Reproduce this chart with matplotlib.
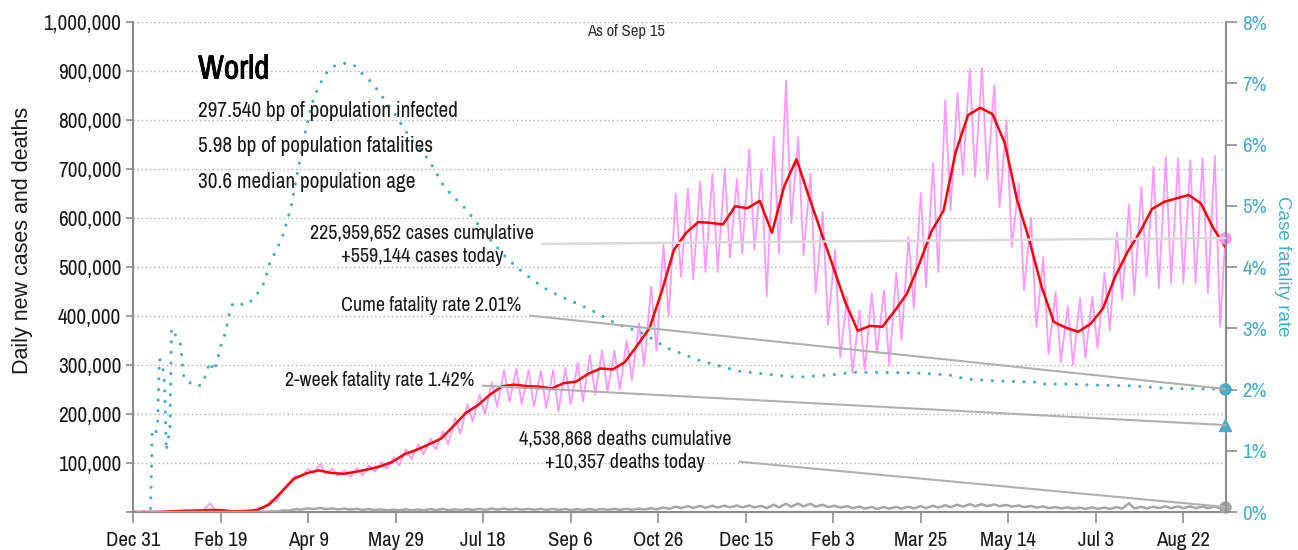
import matplotlib
matplotlib.use('Agg')
import matplotlib.pyplot as plt
import matplotlib.dates as mdates
import matplotlib.ticker as mticker
import matplotlib.patheffects as pe
import numpy as np
import pandas as pd

plt.rcParams['font.family'] = ['Archivo Narrow', 'DejaVu Sans']

# --- data (cases / deaths in thousands, rate in percent) ---
start = pd.Timestamp('2019-12-31')
last_day = pd.Timestamp('2021-09-15')

# 7-day average of new cases, one value per week (Wednesdays from Jan 1 2020)
cases_avg_k = [0, 0, 0.3, 1.5, 2.5, 3, 4, 4, 1.5, 2,
               4, 16, 42, 68, 79, 85, 80, 78, 82, 87,
               93, 102, 118, 127, 138, 150, 175, 202, 218, 240,
               257, 260, 257, 256, 252, 263, 266, 282, 293, 291,
               306, 340, 375, 450, 535, 570, 592, 590, 587, 624,
               620, 635, 570, 665, 720, 645, 572, 500, 427, 370,
               380, 378, 410, 445, 505, 572, 615, 735, 810, 825,
               812, 753, 637, 555, 460, 388, 376, 368, 384, 415,
               480, 530, 570, 618, 633, 640, 647, 630, 580, 541]

# raw daily new cases: weekly highs (Thursdays) and lows (Sundays)
cases_hi_k = [0, 0.1, 0.5, 2.5, 3.5, 4, 18, 3, 2, 3,
              10, 25, 48, 75, 88, 98, 88, 85, 90, 95,
              102, 112, 128, 138, 150, 165, 192, 220, 240, 265,
              290, 292, 290, 288, 290, 295, 305, 320, 330, 330,
              350, 385, 460, 545, 650, 660, 675, 690, 700, 680,
              740, 700, 765, 880, 765, 690, 612, 535, 439, 412,
              447, 453, 488, 561, 651, 712, 841, 855, 904, 906,
              871, 800, 671, 600, 520, 449, 420, 437, 439, 488,
              571, 627, 663, 704, 724, 722, 718, 722, 727]
cases_lo_k = [0, 0, 0.3, 1.5, 2.5, 3, 3, 1, 1, 2,
              8, 22, 60, 72, 80, 78, 75, 72, 75, 82,
              88, 95, 108, 118, 128, 138, 160, 185, 200, 215,
              225, 220, 215, 212, 205, 220, 225, 240, 245, 250,
              270, 300, 330, 400, 480, 475, 490, 490, 520, 528,
              535, 440, 528, 590, 524, 447, 382, 316, 284, 290,
              324, 300, 351, 416, 459, 490, 616, 688, 684, 678,
              622, 541, 453, 378, 322, 306, 300, 314, 335, 371,
              433, 443, 480, 457, 467, 467, 467, 447, 378]

# raw daily deaths: weekly highs (Thursdays) and lows (Sundays)
deaths_hi_k = [0, 0, 0.05, 0.05, 0.06, 0.1, 0.25, 0.1, 0.1, 0.2,
               0.5, 1.3, 3.5, 6, 7.5, 8.5, 7.5, 7, 6.5, 6,
               5.5, 5, 5.5, 5.5, 6, 6.5, 5.5, 6, 6.5, 7,
               7, 6.8, 6.5, 6.5, 6.3, 6.2, 6, 6, 6.2, 6.5,
               6.5, 7, 8, 9.5, 11, 12, 12.5, 13, 13, 13.5,
               13.5, 12.5, 15, 17, 17.5, 17, 15, 13, 12, 11,
               10.5, 10, 10.5, 11, 12, 13, 14, 15, 16, 16,
               15.5, 14.5, 13.5, 12.5, 11.5, 10, 9.5, 9, 9.5, 9,
               10, 18, 10.5, 11, 11.5, 11.5, 11.5, 11, 11]
deaths_lo_k = [0, 0, 0.03, 0.04, 0.05, 0.08, 0.12, 0.08, 0.08, 0.15,
               0.4, 1, 2.8, 5, 6, 6, 5.5, 5, 4.5, 4,
               3.5, 3.5, 3.5, 3.5, 4, 4, 4, 4.5, 4.5, 5,
               5, 5, 4.8, 4.5, 4.3, 4, 4.2, 4.3, 4.2, 4.5,
               4.5, 5, 5.5, 6.5, 8, 8.5, 8.8, 9, 9.5, 9.5,
               9.5, 8, 9.5, 11, 11.5, 11, 10, 9, 8, 7,
               6.5, 7, 7, 7.5, 8, 9, 10, 11, 12, 12,
               12, 11, 10, 9, 8, 7.5, 7, 6.5, 6.5, 6.5,
               7, 7.5, 7.5, 8, 8, 8, 8, 8, 7.5]

# cumulative case fatality rate (%), by day offset from Dec 31 2019
cfr_day = [0, 10, 11, 13, 14, 15, 16, 17, 18, 19,
           20, 21, 22, 23, 25, 27, 29, 31, 34, 37,
           40, 42, 44, 46, 48, 50, 53, 55, 57, 60,
           63, 66, 69, 72, 75, 78, 82, 86, 90, 94,
           98, 102, 106, 110, 114, 118, 122, 126, 130, 135,
           140, 145, 150, 155, 160, 165, 170, 178, 183, 190,
           197, 204, 211, 219, 227, 234, 242, 249, 257, 265,
           273, 281, 289, 297, 305, 314, 323, 333, 346, 362,
           380, 399, 411, 428, 447, 466, 476, 494, 516, 518,
           533, 552, 571, 590, 609, 624]
cfr_pct = [0, 0, 1.35, 1.3, 1.4, 2.5, 2.45, 2.35, 2.1, 1.0,
           1.2, 1.3, 3.0, 2.95, 2.85, 2.75, 2.2, 2.12, 2.1, 2.05,
           2.1, 2.3, 2.45, 2.3, 2.45, 2.7, 2.95, 3.25, 3.4, 3.42,
           3.38, 3.4, 3.5, 3.6, 3.75, 4.06, 4.28, 4.55, 4.95, 5.55,
           6.15, 6.65, 6.95, 7.15, 7.27, 7.31, 7.33, 7.3, 7.18, 7.05,
           6.88, 6.68, 6.48, 6.25, 6.05, 5.9, 5.7, 5.3, 5.15, 4.95,
           4.7, 4.45, 4.22, 4.0, 3.82, 3.67, 3.55, 3.46, 3.36, 3.25,
           3.12, 3.02, 2.95, 2.82, 2.68, 2.58, 2.48, 2.4, 2.3, 2.25,
           2.2, 2.24, 2.28, 2.28, 2.27, 2.24, 2.17, 2.14, 2.12, 2.09,
           2.09, 2.07, 2.06, 2.02, 2.01, 2.01]

cases_today = 559144
cases_cum = 225959652
deaths_today = 10357
deaths_cum = 4538868
cume_rate = 2.01
two_week_rate = 1.42

info_lines = ['297.540 bp of population infected',
              '5.98 bp of population fatalities',
              '30.6 median population age']
tick_labels_x = ['Dec 31', 'Feb 19', 'Apr 9', 'May 29', 'Jul 18', 'Sep 6', 'Oct 26',
                 'Dec 15', 'Feb 3', 'Mar 25', 'May 14', 'Jul 3', 'Aug 22']

# --- build series ---
avg_dates = pd.date_range('2020-01-01', periods=len(cases_avg_k), freq='7D')
hi_dates = pd.date_range('2020-01-02', periods=len(cases_hi_k), freq='7D')
lo_dates = pd.date_range('2020-01-05', periods=len(cases_lo_k), freq='7D')

cases_raw = pd.concat([pd.Series(cases_hi_k, hi_dates), pd.Series(cases_lo_k, lo_dates),
                       pd.Series([cases_today / 1000], [last_day])]).sort_index()
deaths_raw = pd.concat([pd.Series(deaths_hi_k, hi_dates), pd.Series(deaths_lo_k, lo_dates),
                        pd.Series([deaths_today / 1000], [last_day])]).sort_index()
cfr = pd.Series(cfr_pct, start + pd.to_timedelta(cfr_day, unit='D'))

PINK = '#ff99ff'
RED = '#ff0000'
TEAL = '#4bacc6'
GRAY = '#a6a6a6'
AXC = '#8c8c8c'
TXT = '#1a1a1a'

fig = plt.figure(figsize=(12.98, 5.5), dpi=100)
ax = fig.add_axes([0.1025, 0.069, 0.8422, 0.891])
ax2 = ax.twinx()

ax.plot(cases_raw.index, cases_raw.values * 1000, color=PINK, lw=1.3, zorder=2)
ax.plot(avg_dates, np.array(cases_avg_k) * 1000, color=RED, lw=1.8, zorder=3)
ax.plot(deaths_raw.index, deaths_raw.values * 1000, color=GRAY, lw=1.8, zorder=3)
ax2.plot(cfr.index, cfr.values, color=TEAL, lw=2.3, linestyle=(0, (0.01, 3.3)),
         dash_capstyle='round', zorder=2)

# end markers
ax.plot([last_day], [cases_today], 'o', color=PINK, ms=8, clip_on=False, zorder=5)
ax.plot([last_day], [deaths_today], 'o', color=GRAY, ms=8, clip_on=False, zorder=5)
ax2.plot([last_day], [cume_rate], 'o', color=TEAL, ms=8, clip_on=False, zorder=5)
ax2.plot([last_day], [two_week_rate], '^', color=TEAL, ms=9, clip_on=False, zorder=5)

# axes
x0 = mdates.date2num(start)
x1 = mdates.date2num(last_day) + 0.5
ax.set_xlim(x0, x1)
ax.set_ylim(0, 1000000)
ax2.set_ylim(0, 8)

xt = pd.date_range(start, periods=len(tick_labels_x), freq='50D')
ax.set_xticks(xt)
ax.set_xticklabels(tick_labels_x)
ax.set_yticks(np.arange(0, 1000001, 100000))
ax.yaxis.set_major_formatter(mticker.FuncFormatter(lambda v, p: '' if v == 0 else f'{v:,.0f}'))
ax2.set_yticks(np.arange(0, 9, 1))
ax2.yaxis.set_major_formatter(mticker.FuncFormatter(lambda v, p: f'{v:.0f}%'))

ax.grid(axis='y', linestyle=(0, (1, 2)), color='#b0b0b0', lw=1)
ax.set_axisbelow(True)

for a in (ax, ax2):
    a.spines['top'].set_visible(False)
ax.spines['right'].set_visible(False)
ax2.spines['left'].set_visible(False)
ax2.spines['bottom'].set_visible(False)
ax.spines['left'].set_color(AXC)
ax.spines['bottom'].set_color(AXC)
ax2.spines['right'].set_color(AXC)
for s in (ax.spines['left'], ax.spines['bottom'], ax2.spines['right']):
    s.set_linewidth(1.5)

ax.tick_params(axis='x', direction='out', length=8, width=1.2, color=AXC, labelsize=15, pad=6,
               labelcolor=TXT)
ax.tick_params(axis='y', direction='out', length=5, width=1.2, color=AXC, labelsize=15.3,
               labelcolor=TXT)
ax2.tick_params(axis='y', direction='out', length=8, width=1.2, color=AXC, labelsize=15,
                labelcolor=TEAL)

# axis titles are in a regular-width sans
fig.text(0.017, 0.562, 'Daily new cases and deaths', rotation=90, ha='center', va='center',
         fontsize=15.5, color=TXT, family=['Liberation Sans', 'DejaVu Sans'])
fig.text(0.988, 0.516, 'Case fatality rate', rotation=270, ha='center', va='center',
         fontsize=13.5, color=TEAL, family=['Liberation Sans', 'DejaVu Sans'])

# title block
ax2.text(0.0595, 0.903, 'World', transform=ax.transAxes, fontsize=24,
         ha='left', va='center', color='#000000',
         path_effects=[pe.withStroke(linewidth=0.6, foreground='#000000')])
for i, line in enumerate(info_lines):
    ax2.text(0.0595, 0.819 - i * 0.0725, line, transform=ax.transAxes, fontsize=15.3,
             ha='left', va='center', color=TXT)
ax2.text(0.451, 0.98, f'As of {last_day:%b} {last_day.day}', transform=ax.transAxes,
         fontsize=12, ha='center', va='center', color='#333333')

# annotations connecting labels to the end points
def day(n):
    return x0 + n

xe = mdates.date2num(last_day)
ax2.annotate(f'{cases_cum:,} cases cumulative\n+{cases_today:,} cases today',
             xy=(xe, cases_today), xycoords=ax.transData,
             xytext=(day(165), 545000), textcoords=ax.transData,
             ha='center', va='center', multialignment='center', fontsize=14.6,
             color=TXT, linespacing=1.3,
             arrowprops=dict(arrowstyle='-', color='#d9d9d9', lw=1.8, shrinkA=4, shrinkB=0),
             zorder=6)
ax2.annotate(f'Cume fatality rate {cume_rate:.2f}%',
             xy=(xe, cume_rate), xycoords=ax2.transData,
             xytext=(day(222), 422000), textcoords=ax.transData,
             ha='right', va='center', fontsize=14.4, color=TXT,
             arrowprops=dict(arrowstyle='-', color='#b0b0b0', lw=1.5, shrinkA=4, shrinkB=0),
             zorder=6)
ax2.annotate(f'2-week fatality rate {two_week_rate:.2f}%',
             xy=(xe, two_week_rate), xycoords=ax2.transData,
             xytext=(day(195), 269000), textcoords=ax.transData,
             ha='right', va='center', fontsize=14.4, color=TXT,
             arrowprops=dict(arrowstyle='-', color='#b0b0b0', lw=1.5, shrinkA=4, shrinkB=0),
             zorder=6)
ax2.annotate(f'{deaths_cum:,} deaths cumulative\n+{deaths_today:,} deaths today',
             xy=(xe, deaths_today), xycoords=ax.transData,
             xytext=(day(281), 124500), textcoords=ax.transData,
             ha='center', va='center', multialignment='center', fontsize=14.6,
             color=TXT, linespacing=1.3,
             arrowprops=dict(arrowstyle='-', color='#b0b0b0', lw=1.5, shrinkA=4, shrinkB=0),
             zorder=6)

fig.savefig('out.png', dpi=100)
